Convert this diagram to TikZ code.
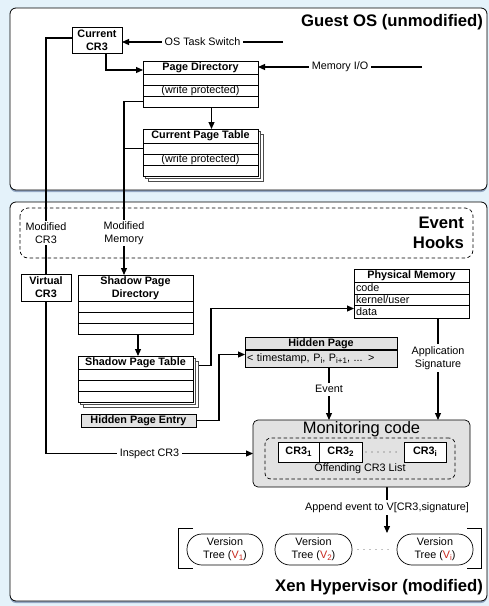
\documentclass[tikz,border=0pt]{standalone}
\usepackage{fontspec}
\setmainfont{Liberation Sans}
\usetikzlibrary{arrows.meta,shadows}
\pgfdeclarelayer{bgl}
\pgfdeclarelayer{panels}
\pgfdeclarelayer{wires}
\pgfsetlayers{bgl,panels,wires,main}
\definecolor{bgblue}{RGB}{228,242,250}
\definecolor{shade}{RGB}{226,226,226}
\definecolor{vred}{RGB}{200,40,30}
\definecolor{shcol}{RGB}{95,120,160}
\newcommand\sbs[1]{\raisebox{-0.35ex}{\fontsize{8}{8}\selectfont #1}}
\begin{document}
\begin{tikzpicture}[x=1pt,y=-1pt,
 every node/.style={font=\fontsize{10.8}{13}\selectfont, inner sep=0pt, outer sep=0pt},
 cell/.style={draw, fill=white, anchor=north west, line width=0.7pt},
 hdr/.style={cell, font=\fontsize{10.8}{13}\selectfont\bfseries, align=center},
 pmrow/.style={cell, text width=111pt, inner xsep=2pt, align=left, minimum height=#1},
 wire/.style={line width=1.1pt},
 arr/.style={wire, -{Triangle[length=7pt,width=6pt]}},
 lbl/.style={fill=white, inner sep=2.5pt, align=center},
 title/.style={font=\fontsize{16.7}{20}\selectfont\bfseries, align=right, anchor=east},
 panel/.style={draw, line width=0.8pt, fill=white, rounded corners=6pt,
   drop shadow={shadow xshift=0pt, shadow yshift=-2pt, fill=shcol, opacity=0.6}},
 stackcopy/.style={draw=gray!60!black, fill=white, line width=0.7pt},
 dotline/.style={draw=gray, line width=1.2pt, dash pattern=on 0.01pt off 6pt, line cap=round},
 vt/.style={draw, fill=white, rounded corners=15pt, minimum height=31pt, anchor=north west, align=center, line width=0.7pt}
]
\begin{pgfonlayer}{bgl}
\fill[bgblue] (0,0) rectangle (489,606);
\end{pgfonlayer}
\useasboundingbox (0,0) rectangle (489,606);

\begin{pgfonlayer}{panels}
\draw[panel] (10,8) rectangle (487,190);
\draw[panel] (10,202) rectangle (487,601);
\draw[line width=0.7pt, dash pattern=on 3.5pt off 2.5pt, rounded corners=8pt] (20,208) rectangle (473,258);
\end{pgfonlayer}

% titles
\node[title] (gtitle) at (483,22) {Guest OS (unmodified)};
\node[title] (xtitle) at (483,587) {Xen Hypervisor (modified)};
\node[title] (ehtitle) at (464,233) {Event\\Hooks};

% Guest OS
\node[hdr, minimum width=50pt, minimum height=26pt] (cr3) at (72,27) {Current\\CR3};
\node[hdr, minimum width=115pt, minimum height=13pt] (pd0) at (143,61) {Page Directory};
\node[cell, minimum width=115pt, minimum height=11pt] (pd1) at (143,74) {};
\node[cell, minimum width=115pt, minimum height=11pt] (pd2) at (143,85) {(write protected)};
\node[cell, minimum width=115pt, minimum height=11pt] (pd3) at (143,96) {};

\foreach \d in {5,2.5} \draw[stackcopy] ({143+\d},{129+\d}) rectangle ({258+\d},{176+\d});
\node[hdr, minimum width=115pt, minimum height=14pt] (cpt0) at (143,129) {Current Page Table};
\node[cell, minimum width=115pt, minimum height=11pt] (cpt1) at (143,143) {};
\node[cell, minimum width=115pt, minimum height=11pt] (cpt2) at (143,154) {(write protected)};
\node[cell, minimum width=115pt, minimum height=11pt] (cpt3) at (143,165) {};

% Event hooks labels
\node[lbl, inner sep=1.5pt] (mc) at (46,233) {Modified\\CR3};
\node[lbl, inner sep=1.5pt] (mm) at (124,233) {Modified\\Memory};

% Xen side
\node[hdr, minimum width=50pt, minimum height=27pt] (vcr3) at (21,274) {Virtual\\CR3};
\node[hdr, minimum width=115pt, minimum height=26pt] (spd0) at (78,275) {Shadow Page\\Directory};
\node[cell, minimum width=115pt, minimum height=11pt] (spd1) at (78,301) {};
\node[cell, minimum width=115pt, minimum height=11pt] (spd2) at (78,312) {};
\node[cell, minimum width=115pt, minimum height=11pt] (spd3) at (78,323) {};

\foreach \d in {5,2.5} \draw[stackcopy] ({78+\d},{356+\d}) rectangle ({193+\d},{402+\d});
\node[hdr, minimum width=115pt, minimum height=13pt] (spt0) at (78,356) {Shadow Page Table};
\node[cell, minimum width=115pt, minimum height=11pt] (spt1) at (78,369) {};
\node[cell, minimum width=115pt, minimum height=11pt] (spt2) at (78,380) {};
\node[cell, minimum width=115pt, minimum height=11pt] (spt3) at (78,391) {};

\node[hdr, fill=shade, minimum width=115pt, minimum height=13pt] (hpe) at (81,414) {Hidden Page Entry};

\node[hdr, minimum width=115pt, minimum height=13pt] (pm0) at (354,269) {Physical Memory};
\node[pmrow=12pt] (pm1) at (354,282) {code};
\node[pmrow=11pt] (pm2) at (354,294) {kernel/user};
\node[pmrow=13pt] (pm3) at (354,305) {data};

\node[hdr, fill=shade, minimum width=152pt, minimum height=13pt] (hp0) at (245,337) {Hidden Page};
\node[cell, fill=shade, text width=148pt, inner xsep=2pt, align=left, minimum height=17pt] (hp1) at (245,350) {< timestamp, P\sbs{i}, P\sbs{i+1}, ... >};
\draw[line width=1.6pt] (hp1.north west) -- (hp1.north east);

\node[draw, fill=shade, rounded corners=5pt, minimum width=217pt, minimum height=67pt, anchor=north west, line width=0.7pt] (mon) at (253,420) {};
\node[font=\fontsize{16.5}{18}\selectfont] (montitle) at (361.5,429) {Monitoring code};
\node[draw, line width=0.7pt, dash pattern=on 3.5pt off 2.5pt, rounded corners=6pt, minimum width=190pt, minimum height=41pt, anchor=north west] (ocl) at (265,438) {};
\node[hdr, minimum width=41pt, minimum height=20pt] (c1) at (278,442) {CR3\sbs{1}};
\node[hdr, minimum width=43pt, minimum height=20pt] (c2) at (319,442) {CR3\sbs{2}};
\node[hdr, minimum width=42pt, minimum height=20pt] (ci) at (404,442) {CR3\sbs{i}};
\node (ocltext) at (360,469) {Offending CR3 List};
\draw[dotline] ([xshift=4pt]c2.east) -- ([xshift=-2pt]ci.west);

\node[vt, minimum width=76pt] (v1) at (187,534) {Version\\Tree ({\color{vred}V\sbs{1}})};
\node[vt, minimum width=77pt] (v2) at (275,534) {Version\\Tree ({\color{vred}V\sbs{2}})};
\node[vt, minimum width=76pt] (vi) at (397,534) {Version\\Tree ({\color{vred}V\sbs{i}})};
\draw[dotline] ([xshift=6pt]v2.east) -- ([xshift=-6pt]vi.west);
\draw[line width=0.8pt] (193,528) -- (178,528) -- (178,568) -- (193,568);
\draw[line width=0.8pt] (467,528) -- (481,528) -- (481,568) -- (467,568);

% connectors
\begin{pgfonlayer}{wires}
\coordinate (ots) at (283,42);
\draw[arr] (ots) -- (ots -| cr3.east) node[lbl, pos=0.5] {OS Task Switch};
\coordinate (mio) at (422,67);
\draw[arr] (mio) -- (mio -| pd0.east) node[lbl, pos=0.5] {Memory I/O};
\coordinate (cr3b) at ([xshift=9pt]cr3.south);
\coordinate (pdin) at ([yshift=-2.5pt]pd0.west);
\draw[arr] (cr3b) |- (pdin);
\coordinate (pdb) at ([xshift=11pt]pd3.south);
\draw[arr] (pdb) -- (pdb |- cpt0.north);

\coordinate (cr3l) at ([yshift=2pt]cr3.west);
\draw[wire] (cr3l) -| (mc.center) -- (vcr3.north);
\draw[arr] (vcr3.south) |- (mon.west) node[lbl, pos=0.75] {Inspect CR3};

\draw[wire] (pd3.west) -| (mm.center);
\draw[wire] (cpt1.west) -- (cpt1.west -| mm.center);
\draw[arr] (mm.center) -- (mm.center |- spd0.north);

\coordinate (spdb) at ([xshift=2.5pt]spd3.south);
\draw[arr] (spdb) -- (spdb |- spt0.north);

\coordinate (k1) at (211,0);
\coordinate (k2) at (219,0);
\coordinate (s1) at ([xshift=5pt,yshift=-3pt]spt0.east);
\coordinate (p1) at ([yshift=3pt]pm3.west);
\draw[arr] (s1) -- (s1 -| k1) |- (p1);
\coordinate (h1) at ([yshift=4pt]hp1.west);
\draw[arr] (hpe.east) -- (hpe.east -| k2) |- (h1);

\coordinate (e1) at ([xshift=8pt]hp1.south);
\draw[arr] (e1) -- (e1 |- mon.north) node[lbl, pos=0.42] {Event};
\coordinate (a1) at ([xshift=26.5pt]pm3.south);
\draw[arr] (a1) -- (a1 |- mon.north) node[lbl, pos=0.39] {Application\\Signature};

\coordinate (ap1) at ([xshift=25.5pt]mon.south);
\coordinate (apend) at (387,533);
\draw[arr] (ap1) -- (apend) node[lbl, pos=0.45] {Append event to V[CR3,signature]};
\end{pgfonlayer}
\end{tikzpicture}
\end{document}
